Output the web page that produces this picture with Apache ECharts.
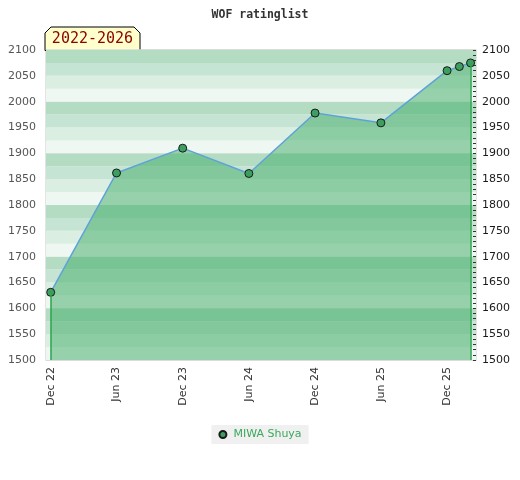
<!DOCTYPE html>
<html>
<head>
<meta charset="utf-8">
<script src="https://cdn.jsdelivr.net/npm/echarts@6/dist/echarts.min.js"></script>
<style>
html,body{margin:0;padding:0;background:#fff;}
#chart{width:520px;height:480px;}
</style>
</head>
<body>
<div id="chart"></div>
<script>
// ---- data ----
var titleText = 'WOF ratinglist';
var periodLabel = '2022-2026';
var seriesName = 'MIWA Shuya';
var dates = ['2022-12-01','2023-06-01','2023-12-01','2024-06-01','2024-12-01','2025-06-01','2025-12-01','2026-01-04','2026-02-04'];
var ratings = [1631, 1862, 1910, 1861, 1978, 1959, 2060, 2068, 2075];
var tickDates = ['2022-12-01','2023-06-01','2023-12-01','2024-06-01','2024-12-01','2025-06-01','2025-12-01'];
var tickLabels = ['Dec 22','Jun 23','Dec 23','Jun 24','Dec 24','Jun 25','Dec 25'];
var xRange = ['2022-11-18','2026-02-19'];
var yMin = 1500, yMax = 2100, yStep = 50, bandStep = 25, lineStep = 100, minorStep = 10;

// day number (UTC) of a date string
function toDay(s){ var p = s.split('-'); return Math.round(Date.UTC(+p[0], +p[1]-1, +p[2]) / 86400000); }

var seriesData = dates.map(function(d,i){ return [toDay(d), ratings[i]]; });
var tickDays = tickDates.map(toDay);
var firstPt = seriesData[0], lastPt = seriesData[seriesData.length-1];
function plain(v){ return String(v); }

var chart = echarts.init(document.getElementById('chart'), null, {renderer:'canvas'});
var option = {
  animation: false,
  backgroundColor: '#ffffff',
  title: {
    text: titleText,
    left: 'center',
    top: 4,
    textStyle: {fontFamily:'DejaVu Sans Mono', fontWeight:'bold', fontSize:11.5, color:'#333333'}
  },
  grid: {
    left: 46, right: 44, top: 50, bottom: 120,
    show: true, borderColor: '#dcdcdc', borderWidth: 1.5,
    containLabel: false, outerBoundsMode: 'none'
  },
  legend: {
    left: 'center', top: 425,
    backgroundColor: '#f0f0f0',
    padding: [4, 7, 4, 7],
    icon: 'circle', itemWidth: 7, itemHeight: 7,
    textStyle: {color:'#3aa95c', fontFamily:'DejaVu Sans', fontSize:11, padding:[0,0,0,2]},
    data: [seriesName]
  },
  xAxis: {
    type: 'value',
    min: toDay(xRange[0]), max: toDay(xRange[1]),
    axisLine: {show:false},
    axisTick: {show:false},
    splitLine: {show:false},
    axisLabel: {
      customValues: tickDays,
      rotate: 90, margin: 7,
      color:'#333333', fontFamily:'DejaVu Sans', fontSize:11,
      formatter: function(v){
        var i = tickDays.indexOf(v);
        return i >= 0 ? tickLabels[i] : '';
      }
    }
  },
  yAxis: [
    {
      type:'value', position:'left', min:yMin, max:yMax, interval:yStep,
      axisLine:{show:false}, axisTick:{show:false},
      axisLabel:{color:'#555555', fontFamily:'DejaVu Sans', fontSize:11, margin:10, formatter: plain},
      splitLine:{show:true, lineStyle:{color:['#d9d9d9','rgba(0,0,0,0)'], width:1.5}}
    },
    {
      type:'value', position:'right', min:yMin, max:yMax, interval:yStep,
      axisLine:{show:false},
      axisTick:{show:true, inside:true, length:3, lineStyle:{color:'#333333'}},
      minorTick:{show:true, splitNumber: yStep/minorStep, length:3, lineStyle:{color:'#333333'}},
      axisLabel:{color:'#1a1a1a', fontFamily:'DejaVu Sans', fontSize:11, margin:6, formatter: plain},
      splitLine:{show:false}
    },
    {
      type:'value', position:'left', min:yMin, max:yMax, interval:bandStep,
      axisLine:{show:false}, axisTick:{show:false}, axisLabel:{show:false},
      splitLine:{show:false},
      splitArea:{show:true, areaStyle:{color:['#eef7f1','#daeee2','#c6e4d3','#b3dcc3']}}
    }
  ],
  series: [{
    name: seriesName,
    type: 'line',
    yAxisIndex: 0,
    data: seriesData,
    symbol: 'circle',
    symbolSize: 8,
    itemStyle: {color:'#3c9f60', borderColor:'#1a1a1a', borderWidth:1},
    lineStyle: {color:'#5fa2d9', width:1.5},
    areaStyle: {color:'rgba(63,172,101,0.5)', opacity:1, origin:'start'},
    markLine: {
      silent: true, symbol: 'none',
      label: {show:false},
      lineStyle: {color:'#2ea44f', width:1.5, type:'solid'},
      data: [
        [{coord:[firstPt[0], yMin]}, {coord:[firstPt[0], firstPt[1]]}],
        [{coord:[lastPt[0], yMin]}, {coord:[lastPt[0], lastPt[1]]}]
      ]
    }
  }],
  graphic: [{
    type: 'group', z: 100,
    children: [
      {type:'polygon', shape:{points:[[45,50.5],[45,33],[51,27],[134,27],[140,33],[140,50.5]]},
       style:{fill:'#ffffcc', stroke:'#000000', lineWidth:1}},
      {type:'text', x:92.5, y:39.5,
       style:{text:periodLabel, fill:'#8b0000', font:'15px "DejaVu Sans Mono"', align:'center', verticalAlign:'middle'}}
    ]
  }]
};
chart.setOption(option);
</script>
</body>
</html>
